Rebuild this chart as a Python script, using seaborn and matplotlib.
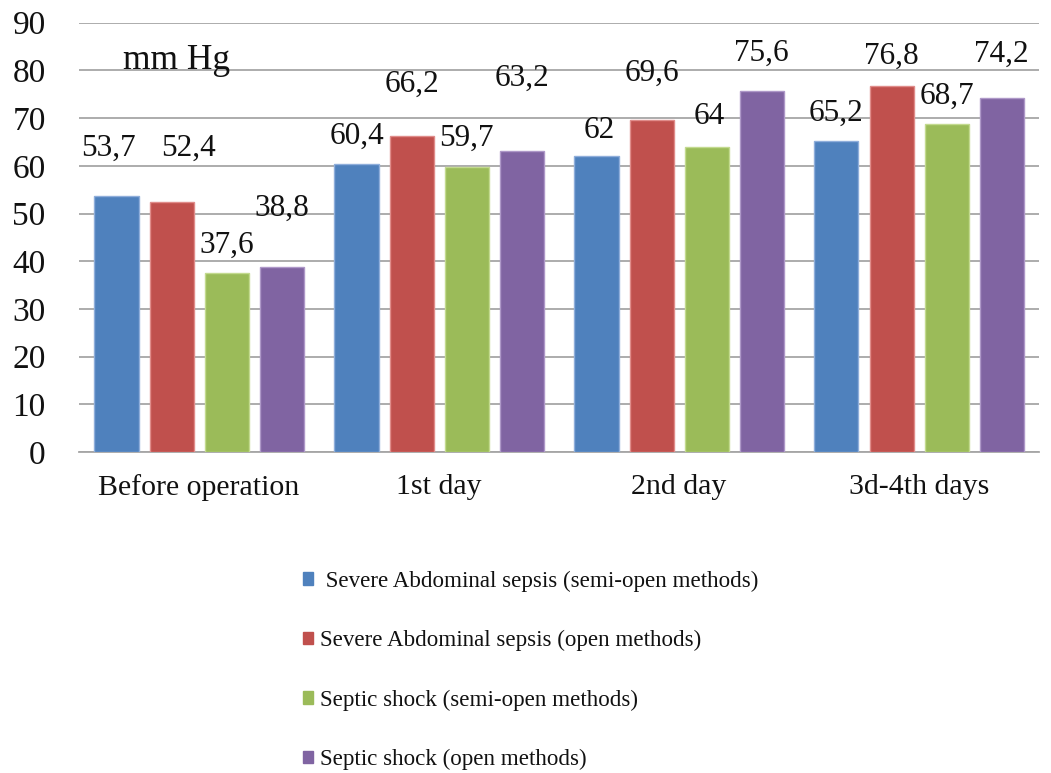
import matplotlib
matplotlib.use("Agg")
import matplotlib.pyplot as plt
from matplotlib.patches import Patch
import seaborn as sns
import pandas as pd

categories = ["Before operation", "1st day", "2nd day", "3d-4th days"]
series = [
    " Severe Abdominal sepsis (semi-open methods)",
    "Severe Abdominal sepsis (open methods)",
    "Septic shock (semi-open methods)",
    "Septic shock (open methods)",
]
sev_semi_open = [53.7, 60.4, 62.0, 65.2]
sev_open = [52.4, 66.2, 69.6, 76.8]
shock_semi_open = [37.6, 59.7, 64.0, 68.7]
shock_open = [38.8, 63.2, 75.6, 74.2]
values = [sev_semi_open, sev_open, shock_semi_open, shock_open]

colors = ["#4F81BD", "#C0504D", "#9BBB59", "#8064A2"]
edge_colors = ["#8FAEDB", "#E08C8A", "#C3DA8F", "#AE98C8"]
# label offsets above bar tops (styling, data units), per series then category
label_offsets = [
    [10.0, 5.7, 5.5, 5.8],
    [11.3, 10.8, 9.8, 6.1],
    [5.8, 6.1, 6.3, 5.8],
    [12.3, 15.2, 8.0, 9.1],
]
# horizontal label shifts (styling, points), per series then category
label_dx = [
    [-6, 0, 2, 0],
    [12, 0, 0, 0],
    [0, 0, 2, 0],
    [0, 0, 0, 0],
]

rows = []
for s, vals in zip(series, values):
    for c, v in zip(categories, vals):
        rows.append({"category": c, "series": s, "value": v})
df = pd.DataFrame(rows)

sns.set_theme(style="white")
plt.rcParams["font.family"] = ["Liberation Serif", "DejaVu Serif"]

fig = plt.figure(figsize=(10.51, 7.73), dpi=100)
ax = fig.add_axes([0.0752, 0.4153, 0.9134, 0.5553])

sns.barplot(data=df, x="category", y="value", hue="series", order=categories,
            hue_order=series, palette=colors, saturation=1, width=0.917, gap=0.2,
            errorbar=None, legend=False, ax=ax, zorder=3)

for i, cont in enumerate(ax.containers):
    for j, bar in enumerate(cont):
        bar.set_edgecolor(edge_colors[i])
        bar.set_linewidth(1.0)
        h = bar.get_height()
        txt = "{:g}".format(h).replace(".", ",")
        ax.annotate(txt, xy=(bar.get_x() + bar.get_width() / 2, h + label_offsets[i][j]),
                    xytext=(label_dx[i][j], 0), textcoords="offset points",
                    ha="center", va="center", fontsize=22.5, color="#111111", zorder=4)

ax.set_xlim(-0.5, 3.5)
ax.set_ylim(0, 90)
ax.set_yticks(range(0, 91, 10))
ax.yaxis.grid(True, color="#A6A6A6", linewidth=1.3, zorder=0)
ax.set_axisbelow(True)
for side in ["left", "right", "top"]:
    ax.spines[side].set_visible(False)
ax.spines["bottom"].set_color("#A6A6A6")
ax.spines["bottom"].set_linewidth(1.3)
ax.tick_params(axis="y", length=0, pad=24, labelsize=24, labelcolor="#111111")
ax.tick_params(axis="x", length=0, pad=16, labelsize=21.5, labelcolor="#111111")
ax.set_xlabel("")
ax.set_ylabel("")

ax.text(-0.317, 82, "mm Hg", ha="left", va="center", fontsize=25.5, color="#111111")

handles = [Patch(facecolor=c, edgecolor=c) for c in colors]
fig.legend(handles, series, loc="upper left", bbox_to_anchor=(0.288, 0.262),
           frameon=False, fontsize=16.6, handlelength=0.45, handleheight=0.45,
           handletextpad=0.3, labelspacing=1.66, borderaxespad=0, borderpad=0,
           labelcolor="#111111")

fig.savefig("out.png", dpi=100)
